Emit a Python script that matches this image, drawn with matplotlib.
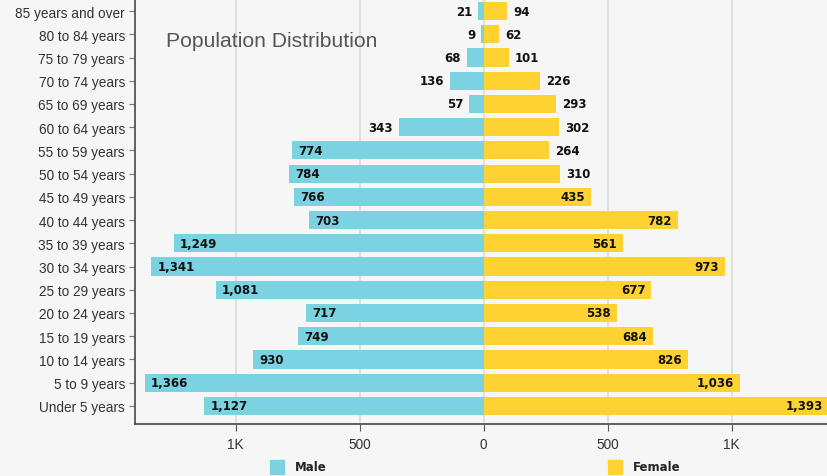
import matplotlib
matplotlib.use("Agg")
import matplotlib.pyplot as plt
from matplotlib.patches import Rectangle
import numpy as np

categories = ["Under 5 years", "5 to 9 years", "10 to 14 years", "15 to 19 years",
              "20 to 24 years", "25 to 29 years", "30 to 34 years", "35 to 39 years",
              "40 to 44 years", "45 to 49 years", "50 to 54 years", "55 to 59 years",
              "60 to 64 years", "65 to 69 years", "70 to 74 years", "75 to 79 years",
              "80 to 84 years", "85 years and over"]
male = [1127, 1366, 930, 749, 717, 1081, 1341, 1249, 703, 766, 784, 774,
        343, 57, 136, 68, 9, 21]
female = [1393, 1036, 826, 684, 538, 677, 973, 561, 782, 435, 310, 264,
          302, 293, 226, 101, 62, 94]
xticks = [-1000, -500, 0, 500, 1000]
xticklabels = ["1K", "500", "0", "500", "1K"]

male_color = "#7bd3e1"
female_color = "#fed233"
bg = "#f6f6f6"

plt.rcParams['font.family'] = ['Liberation Sans', 'DejaVu Sans']

fig = plt.figure(figsize=(8.27, 4.77), dpi=100, facecolor=bg)
ax = fig.add_axes([0.163, 0.109, 0.837, 0.891])
ax.set_facecolor(bg)

y = np.arange(len(categories))
ax.barh(y, [-m for m in male], height=0.78, color=male_color, zorder=2)
ax.barh(y, female, height=0.78, color=female_color, zorder=2)

lab_font = dict(fontsize=8.5, fontweight='bold', color='#111111',
                family=['DejaVu Sans'])
thr = 400
for yi, m in zip(y, male):
    if m > thr:
        ax.text(-m + 25, yi, f"{m:,}", ha='left', va='center', zorder=3, **lab_font)
    else:
        ax.text(-m - 25, yi, f"{m:,}", ha='right', va='center', zorder=3, **lab_font)
for yi, f in zip(y, female):
    if f > thr:
        ax.text(f - 25, yi, f"{f:,}", ha='right', va='center', zorder=3, **lab_font)
    else:
        ax.text(f + 25, yi, f"{f:,}", ha='left', va='center', zorder=3, **lab_font)

ax.set_xlim(-1407, 1385)
ax.set_ylim(-0.78, 17.52)
ax.set_yticks(y)
ax.set_yticklabels(categories, fontsize=9.8, color='#333333')
ax.set_xticks(xticks)
ax.set_xticklabels(xticklabels, fontsize=9.8, color='#333333')
ax.tick_params(axis='y', length=4, color='#777777', pad=3)
ax.tick_params(axis='x', length=5, color='#555555', pad=4)
ax.grid(axis='x', color='#dcdcdc', linewidth=1.2, zorder=0)
ax.set_axisbelow(True)
for s in ['top', 'right']:
    ax.spines[s].set_visible(False)
for s in ['left', 'bottom']:
    ax.spines[s].set_color('#555555')
    ax.spines[s].set_linewidth(1.3)

ax.text(0.045, 0.903, "Population Distribution", transform=ax.transAxes,
        fontsize=15.2, color='#555555', ha='left', va='center')

# legend
W, H = 827, 477
for x0, label, col in [(270, "Male", male_color), (608, "Female", female_color)]:
    fig.add_artist(Rectangle((x0 / W, 1 - 475 / H), 14 / W, 14 / H,
                             transform=fig.transFigure, color=col))
    fig.text((x0 + 25) / W, 1 - 468 / H, label, fontsize=8.5, fontweight='bold',
             color='#222222', va='center', ha='left', family=['DejaVu Sans'])

fig.savefig("out.png", dpi=100, facecolor=bg)
